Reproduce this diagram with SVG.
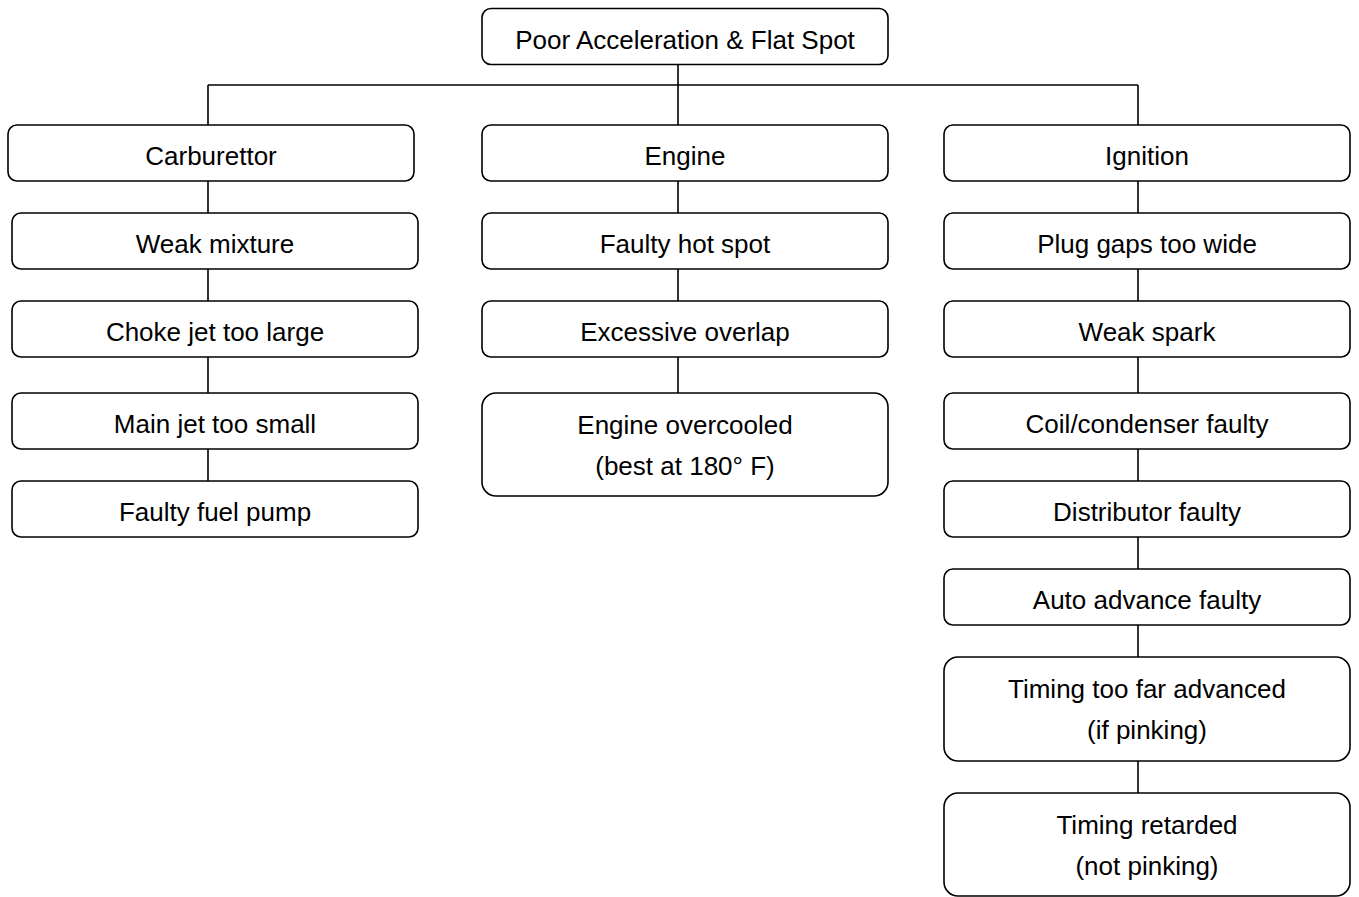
<svg xmlns="http://www.w3.org/2000/svg" width="1359" height="897" viewBox="0 0 1359 897">
<style>
.box{fill:#fff;stroke:#000;stroke-width:1.6}
.t{font-family:"Liberation Sans",Arial,sans-serif;font-size:26px;fill:#000;text-anchor:middle}
.c{stroke:#000;stroke-width:1.6;fill:none}
</style>
<rect width="1359" height="897" fill="#fff"/>
<g id="connectors">
<path class="c" d="M678 64V125M208 85H1138M208 85V125M1138 85V125"/>
<path class="c" d="M208 181V213M208 269V301M208 357V393M208 449V481"/>
<path class="c" d="M678 181V213M678 269V301M678 357V393"/>
<path class="c" d="M1138 181V213M1138 269V301M1138 357V393M1138 449V481M1138 537V569M1138 625V657M1138 761V793"/>
</g>
<g id="n0"><rect class="box" x="482" y="8.5" width="406" height="56" rx="9"/><text class="t" x="685" y="49">Poor Acceleration &amp; Flat Spot</text></g>
<g id="carb"><rect class="box" x="8" y="125" width="406" height="56" rx="9"/><text class="t" x="211" y="165">Carburettor</text></g>
<g id="engine"><rect class="box" x="482" y="125" width="406" height="56" rx="9"/><text class="t" x="685" y="165">Engine</text></g>
<g id="ign"><rect class="box" x="944" y="125" width="406" height="56" rx="9"/><text class="t" x="1147" y="165">Ignition</text></g>
<g id="c1"><rect class="box" x="12" y="213" width="406" height="56" rx="9"/><text class="t" x="215" y="253">Weak mixture</text></g>
<g id="c2"><rect class="box" x="12" y="301" width="406" height="56" rx="9"/><text class="t" x="215" y="341">Choke jet too large</text></g>
<g id="c3"><rect class="box" x="12" y="393" width="406" height="56" rx="9"/><text class="t" x="215" y="433">Main jet too small</text></g>
<g id="c4"><rect class="box" x="12" y="481" width="406" height="56" rx="9"/><text class="t" x="215" y="521">Faulty fuel pump</text></g>
<g id="e1"><rect class="box" x="482" y="213" width="406" height="56" rx="9"/><text class="t" x="685" y="253">Faulty hot spot</text></g>
<g id="e2"><rect class="box" x="482" y="301" width="406" height="56" rx="9"/><text class="t" x="685" y="341">Excessive overlap</text></g>
<g id="e3"><rect class="box" x="482" y="393" width="406" height="103" rx="14"/><text class="t" x="685" y="434">Engine overcooled</text><text class="t" x="685" y="475">(best at 180° F)</text></g>
<g id="i1"><rect class="box" x="944" y="213" width="406" height="56" rx="9"/><text class="t" x="1147" y="253">Plug gaps too wide</text></g>
<g id="i2"><rect class="box" x="944" y="301" width="406" height="56" rx="9"/><text class="t" x="1147" y="341">Weak spark</text></g>
<g id="i3"><rect class="box" x="944" y="393" width="406" height="56" rx="9"/><text class="t" x="1147" y="433">Coil/condenser faulty</text></g>
<g id="i4"><rect class="box" x="944" y="481" width="406" height="56" rx="9"/><text class="t" x="1147" y="521">Distributor faulty</text></g>
<g id="i5"><rect class="box" x="944" y="569" width="406" height="56" rx="9"/><text class="t" x="1147" y="609">Auto advance faulty</text></g>
<g id="i6"><rect class="box" x="944" y="657" width="406" height="104" rx="14"/><text class="t" x="1147" y="698">Timing too far advanced</text><text class="t" x="1147" y="739">(if pinking)</text></g>
<g id="i7"><rect class="box" x="944" y="793" width="406" height="103" rx="14"/><text class="t" x="1147" y="834">Timing retarded</text><text class="t" x="1147" y="875">(not pinking)</text></g>
</svg>
